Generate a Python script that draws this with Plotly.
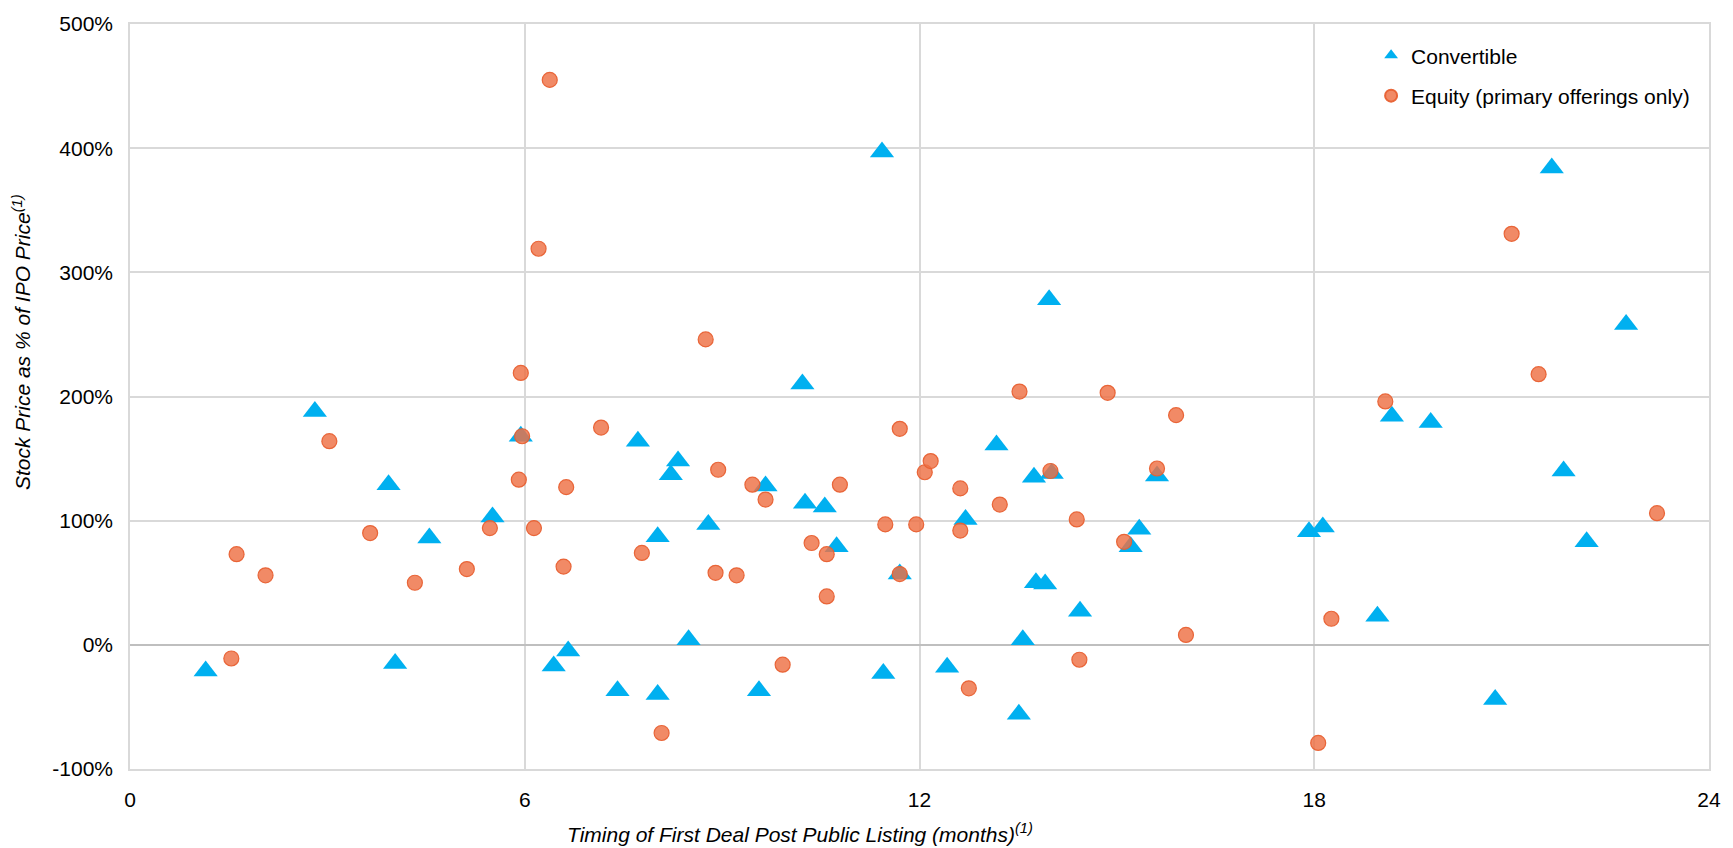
import plotly.graph_objects as go

conv_x = [1.15, 2.81, 3.93, 4.03, 4.55, 5.51, 5.94, 6.44, 6.66, 7.41, 7.72, 8.02, 8.02, 8.22, 8.33,
          8.49, 8.79, 9.56, 9.66, 10.22, 10.26, 10.56, 10.74, 11.45, 11.43, 11.70, 12.42, 12.70,
          13.17, 13.51, 13.57, 13.74, 13.77, 13.91, 14.01, 13.97, 14.44, 15.21, 15.34, 15.61,
          17.92, 18.13, 18.96, 19.18, 19.77, 20.75, 21.61, 21.79, 22.14, 22.74]
conv_y = [-21, 188, 129, -15, 86, 103, 168, -17, -5, -37, 164, -40, 87, 137, 148,
          4, 97, -37, 128, 210, 114, 111, 79, -23, 397, 57, -18, 101,
          161, -56, 4, 135, 50, 49, 138, 278, 27, 79, 93, 136,
          91, 95, 23, 184, 179, -44, 384, 140, 83, 258]

eq_x = [1.54, 1.62, 2.06, 3.03, 3.65, 4.33, 5.12, 5.47, 5.94, 5.91, 5.96, 6.14, 6.21, 6.38, 6.63,
        6.59, 7.16, 7.78, 8.08, 8.75, 8.94, 8.90, 9.22, 9.46, 9.66, 9.92, 10.36, 10.59, 10.59,
        10.79, 11.48, 11.70, 11.70, 11.95, 12.08, 12.17, 12.62, 12.62, 12.75, 13.22, 13.52,
        13.99, 14.39, 14.43, 14.86, 15.11, 15.61, 15.90, 16.05, 18.06, 18.26, 19.08, 21.00,
        21.41, 23.21]
eq_y = [-11, 73, 56, 164, 90, 50, 61, 94, 219, 133, 168, 94, 319, 455, 127,
        63, 175, 74, -71, 246, 141, 58, 56, 129, 117, -16, 82, 73, 39,
        129, 97, 174, 57, 97, 139, 148, 126, 92, -35, 113, 204,
        140, 101, -12, 203, 83, 142, 185, 8, -79, 21, 196, 331,
        218, 106]

x_ticks = [0, 6, 12, 18, 24]
y_ticks = [-100, 0, 100, 200, 300, 400, 500]

FONT = "Liberation Sans, Arial, sans-serif"

fig = go.Figure()
fig.add_trace(go.Scatter(
    x=conv_x, y=conv_y, mode="markers", name="Convertible", legendgroup="a",
    marker=dict(symbol="triangle-up", size=21, color="#00B0F0", line=dict(width=0)),
))
fig.add_trace(go.Scatter(
    x=eq_x, y=eq_y, mode="markers", name="Equity (primary offerings only)", legendgroup="b",
    marker=dict(symbol="circle", size=15, color="rgba(238,112,68,0.82)",
                line=dict(width=1.2, color="rgba(232,96,50,0.95)")),
))

fig.update_layout(
    width=1733, height=848,
    margin=dict(l=130, r=13, t=21, b=79),
    paper_bgcolor="white", plot_bgcolor="white",
    font=dict(family=FONT, size=21, color="#000000"),
    showlegend=True,
    legend=dict(x=0.786, y=0.985, xanchor="left", yanchor="top",
                bgcolor="rgba(0,0,0,0)", font=dict(size=21, family=FONT),
                traceorder="grouped", tracegroupgap=10, itemsizing="constant"),
    xaxis=dict(range=[0, 24], tickvals=x_ticks, ticktext=[str(v) for v in x_ticks],
               showgrid=True, gridcolor="#D9D9D9", gridwidth=1.5,
               showline=True, linecolor="#D9D9D9", linewidth=1.5, mirror=True,
               zeroline=False, ticks="", ticklabelstandoff=11, fixedrange=True),
    yaxis=dict(range=[-100, 500], tickvals=y_ticks, ticktext=[f"{v}%" for v in y_ticks],
               showgrid=True, gridcolor="#D9D9D9", gridwidth=1.5,
               showline=True, linecolor="#D9D9D9", linewidth=1.5, mirror=True,
               zeroline=True, zerolinecolor="#BFBFBF", zerolinewidth=1.5,
               ticks="", ticklabelstandoff=11, fixedrange=True),
    annotations=[
        dict(text="<i>Stock Price as % of IPO Price<sup>(1)</sup></i>", xref="paper", yref="paper",
             x=-0.0688, y=0.5735, xanchor="center", yanchor="middle", textangle=-90,
             showarrow=False, font=dict(size=21, family=FONT)),
        dict(text="<i>Timing of First Deal Post Public Listing (months)<sup>(1)</sup></i>",
             xref="paper", yref="paper", x=0.4245, y=-0.0856, xanchor="center", yanchor="middle",
             showarrow=False, font=dict(size=21, family=FONT)),
    ],
)

fig.write_html("out.html", config={"displayModeBar": False})
